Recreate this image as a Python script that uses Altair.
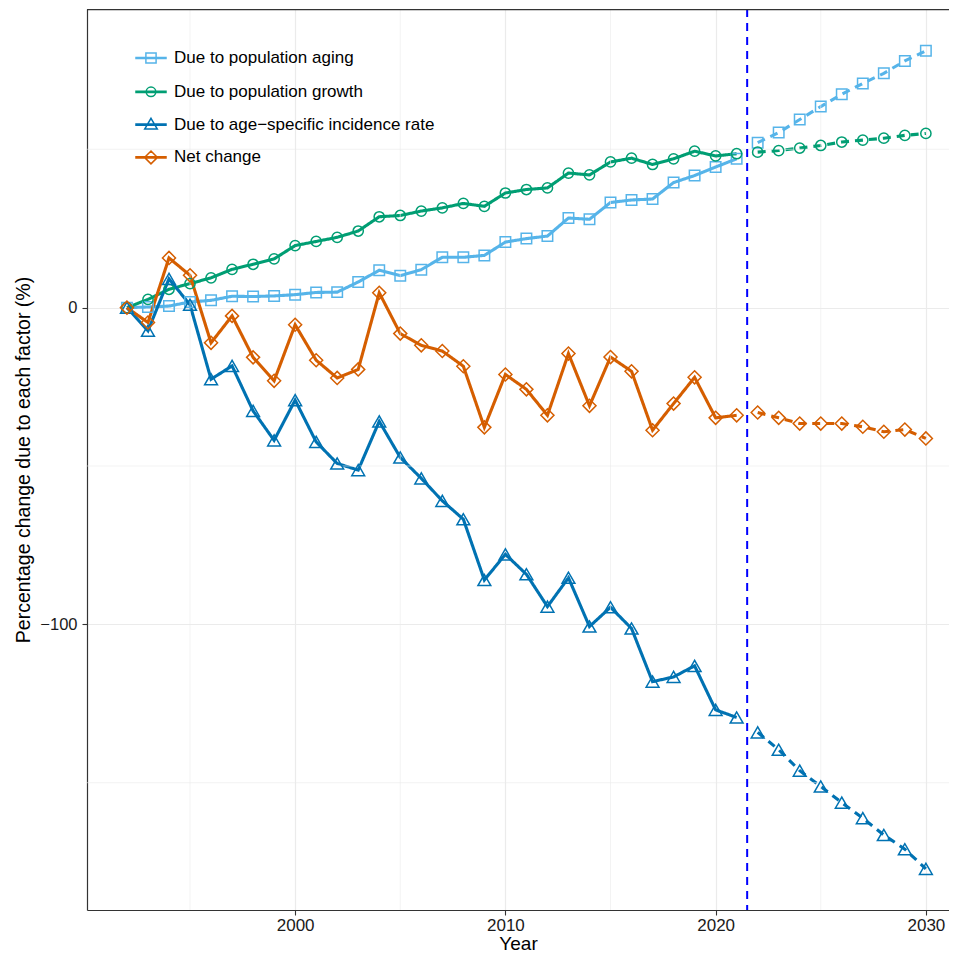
import altair as alt
import pandas as pd

# ---------------- data ----------------
factors = [
    "Due to population aging",
    "Due to population growth",
    "Due to age\u2212specific incidence rate",
    "Net change",
]
colors = ["#56B4E9", "#009E73", "#0072B2", "#D55E00"]
shapes = ["square", "circle", "triangle-up", "diamond"]
marker_sizes = [110, 105, 165, 170]

obs_years = [1992, 1993, 1994, 1995, 1996, 1997, 1998, 1999, 2000, 2001,
             2002, 2003, 2004, 2005, 2006, 2007, 2008, 2009, 2010, 2011,
             2012, 2013, 2014, 2015, 2016, 2017, 2018, 2019, 2020, 2021]
proj_years = [2022, 2023, 2024, 2025, 2026, 2027, 2028, 2029, 2030]

aging_obs = [0, 0.2, 0.5, 1.8, 2.3, 3.6, 3.5, 3.7, 4.1, 4.8,
             4.9, 8.1, 11.8, 10.1, 12.0, 15.9, 15.9, 16.5, 20.7, 21.8,
             22.6, 28.3, 27.9, 33.2, 34.0, 34.3, 39.5, 41.7, 44.4, 47.0]
aging_proj = [52.1, 55.3, 59.4, 63.5, 67.4, 70.8, 74.0, 77.9, 81.1]

growth_obs = [0, 2.6, 5.8, 7.6, 9.4, 12.1, 13.7, 15.4, 19.6, 20.9,
              22.2, 24.2, 28.7, 29.1, 30.5, 31.5, 32.9, 32.0, 36.2, 37.3,
              37.8, 42.5, 41.9, 46.0, 47.2, 45.2, 47.0, 49.4, 47.9, 48.6]
growth_proj = [49.1, 49.6, 50.4, 51.2, 52.3, 52.9, 53.5, 54.4, 55.0]

incid_obs = [0, -7.3, 9.1, 0.9, -22.6, -18.4, -32.6, -41.9, -29.2, -42.4,
             -49.2, -51.3, -35.9, -47.3, -53.9, -61.0, -66.8, -86.0, -77.9, -84.2,
             -94.4, -85.3, -100.7, -94.6, -101.3, -118.1, -116.6, -113.1, -127.0, -129.4]
incid_proj = [-134.1, -139.6, -146.2, -151.2, -156.3, -161.2, -166.5, -171.0, -177.2]

net_obs = [0, -4.7, 15.7, 10.2, -11.1, -2.6, -15.7, -23.1, -5.4, -16.6,
           -22.2, -19.5, 4.7, -8.2, -11.9, -13.7, -18.5, -37.8, -21.1, -25.8,
           -34.0, -14.5, -31.0, -15.6, -20.1, -38.7, -30.3, -22.0, -34.8, -34.0]
net_proj = [-33.1, -34.8, -36.6, -36.6, -36.6, -37.6, -39.2, -38.5, -41.3]

periods = ["Observed", "Projected"]
cutoff = [2021.5]

x_major = [2000, 2010, 2020, 2030]
x_minor = [1995, 2005, 2015, 2025]
y_major = [0, -100]
y_minor = [50, -50, -150]

# ---------------- table ----------------
series = [
    (factors[0], aging_obs, aging_proj),
    (factors[1], growth_obs, growth_proj),
    (factors[2], incid_obs, incid_proj),
    (factors[3], net_obs, net_proj),
]
rows = []
for name, obs, proj in series:
    for yr, v in zip(obs_years, obs):
        rows.append({"factor": name, "year": yr, "value": v, "period": periods[0]})
    for yr, v in zip(proj_years, proj):
        rows.append({"factor": name, "year": yr, "value": v, "period": periods[1]})
df = pd.DataFrame(rows)

W, H = 862, 901
FONT = "Liberation Sans"

xscale = alt.Scale(domain=[1990.1, 2031.1], nice=False, zero=False)
yscale = alt.Scale(domain=[-190.2, 94.3], nice=False, zero=False)

x_axis = alt.Axis(values=x_major, format="d", title="Year", grid=True)
y_axis = alt.Axis(values=y_major, format="d",
                  title="Percentage change due to each factor (%)", grid=True)

color_scale = alt.Scale(domain=factors, range=colors)

# legend symbols: line + marker drawn as one custom path
line_p = "M-1,-0.04H1V0.04H-1Z"
marker_p = [
    "M-0.34,-0.34H0.34V0.34H-0.34Z",
    "M0.32,0A0.32,0.32,0,1,1,-0.32,0A0.32,0.32,0,1,1,0.32,0Z",
    "M0,-0.42L0.42,0.3H-0.42Z",
    "M0,-0.43L0.43,0L0,0.43L-0.43,0Z",
]
paths = [line_p + " " + m for m in marker_p]

legend = alt.Legend(
    title=None, orient="none", legendX=48, legendY=33,
    labelFont=FONT, labelFontSize=17, labelColor="#000000", labelLimit=500,
    symbolSize=900, symbolStrokeWidth=1.5, rowPadding=8.8, labelOffset=7,
    padding=0, symbolFillColor="transparent", symbolOpacity=1,
)

color_enc = alt.Color("factor:N", scale=color_scale, legend=legend)

base = alt.Chart(df)

lines = base.mark_line(strokeWidth=3.1).encode(
    x=alt.X("year:Q", scale=xscale, axis=x_axis),
    y=alt.Y("value:Q", scale=yscale, axis=y_axis),
    color=color_enc,
    strokeDash=alt.StrokeDash("period:N",
                              scale=alt.Scale(domain=periods, range=[[1, 0], [8, 6]]),
                              legend=None),
    detail="period:N",
)

point_layers = []
for name, shp, sz in zip(factors, shapes, marker_sizes):
    point_layers.append(
        base.transform_filter(alt.datum.factor == name)
        .mark_point(filled=False, strokeWidth=1.5, opacity=1, shape=shp, size=sz)
        .encode(x="year:Q", y="value:Q", color=color_enc)
    )

# invisible layer that only supplies the legend symbols (line + marker)
legend_layer = base.mark_point(filled=False, opacity=0).encode(
    x="year:Q", y="value:Q",
    color=color_enc,
    shape=alt.Shape("factor:N", scale=alt.Scale(domain=factors, range=paths),
                    legend=legend),
)

grid_x = alt.Chart(pd.DataFrame({"year": x_minor})).mark_rule(
    color="#EBEBEB", strokeWidth=0.6).encode(x="year:Q")
grid_y = alt.Chart(pd.DataFrame({"value": y_minor})).mark_rule(
    color="#EBEBEB", strokeWidth=0.6).encode(y="value:Q")

vline = alt.Chart(pd.DataFrame({"year": cutoff})).mark_rule(
    color="#0000FF", strokeWidth=2, strokeDash=[8, 6]).encode(x="year:Q")

top_border = alt.Chart(pd.DataFrame({"b": [0]})).mark_rule(
    color="#333333", strokeWidth=1.2).encode(
    x=alt.value(0), x2=alt.value(W), y=alt.value(0.6))

chart = alt.layer(lines, grid_x, grid_y, *point_layers, legend_layer, vline, top_border).properties(
    width=W, height=H,
    padding={"left": 79, "top": 1, "right": 0, "bottom": 42},
    autosize=alt.AutoSizeParams(type="none"),
).configure_view(strokeWidth=0, stroke="transparent").configure_axis(
    labelFont=FONT, titleFont=FONT, labelFontSize=17, labelColor="#1a1a1a",
    titleColor="#000000", titleFontWeight="normal",
    domainColor="#333333", domainWidth=1.2, tickColor="#333333", tickWidth=1.1,
    tickSize=5, gridColor="#EBEBEB", gridWidth=1.2,
).configure_axisX(
    labelPadding=2, titlePadding=1, titleFontSize=19,
).configure_axisY(
    labelPadding=5, titlePadding=6.5, titleFontSize=19.5, labelFontSize=16.5,
)

chart.save("out.html", embed_options={"renderer": "svg", "actions": False})
